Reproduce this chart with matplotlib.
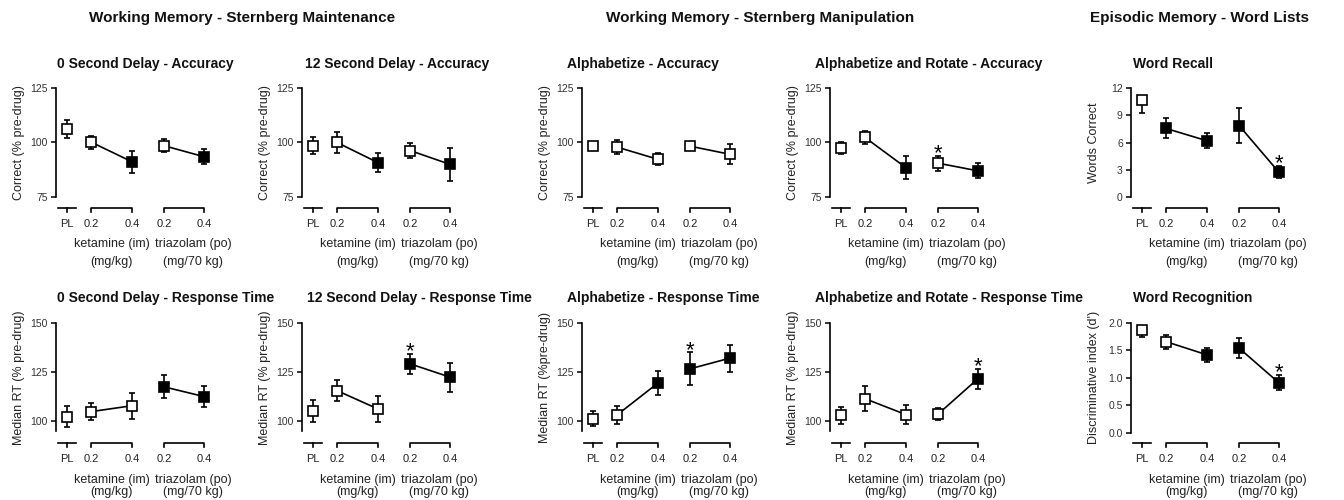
import matplotlib
matplotlib.use("Agg")
import matplotlib.pyplot as plt

plt.rcParams['font.family'] = ['Liberation Sans', 'DejaVu Sans']

# ---------------- data ----------------
dose_labels = ["PL", "0.2", "0.4", "0.2", "0.4"]
drug_names = ["ketamine (im)", "triazolam (po)"]
drug_units = ["(mg/kg)", "(mg/70 kg)"]
group_titles = ["Working Memory - Sternberg Maintenance",
                "Working Memory - Sternberg Manipulation",
                "Episodic Memory - Word Lists"]

titles_top = ["0 Second Delay - Accuracy", "12 Second Delay - Accuracy",
              "Alphabetize - Accuracy", "Alphabetize and Rotate - Accuracy",
              "Word Recall"]
titles_bot = ["0 Second Delay - Response Time", "12 Second Delay - Response Time",
              "Alphabetize - Response Time", "Alphabetize and Rotate - Response Time",
              "Word Recognition"]
ylabels_top = ["Correct (% pre-drug)"] * 4 + ["Words Correct"]
ylabels_bot = ["Median RT (% pre-drug)", "Median RT (% pre-drug)",
               "Median RT (%pre-drug)", "Median RT (% pre-drug)",
               "Discriminative index (d')"]

# top row
acc0_mean = [106.3, 100.2, 91.2, 98.5, 93.5]
acc0_err = [4.2, 3.0, 5.0, 2.9, 3.4]
acc0_filled = [0, 0, 1, 0, 1]
acc0_star = [0, 0, 0, 0, 0]

acc12_mean = [98.6, 100.0, 90.8, 96.3, 90.0]
acc12_err = [3.8, 4.6, 4.4, 3.6, 7.7]
acc12_filled = [0, 0, 1, 0, 1]
acc12_star = [0, 0, 0, 0, 0]

alph_acc_mean = [98.6, 97.9, 92.3, 98.3, 94.6]
alph_acc_err = [1.2, 3.1, 2.8, 1.7, 4.6]
alph_acc_filled = [0, 0, 0, 0, 0]
alph_acc_star = [0, 0, 0, 0, 0]

rot_acc_mean = [97.4, 102.3, 88.5, 90.5, 87.0]
rot_acc_err = [2.8, 3.0, 5.1, 3.4, 3.4]
rot_acc_filled = [0, 0, 1, 0, 1]
rot_acc_star = [0, 0, 0, 1, 0]

recall_mean = [10.65, 7.55, 6.2, 7.85, 2.75]
recall_err_lo = [1.35, 1.1, 0.85, 1.9, 0.7]
recall_err_hi = [0.0, 1.1, 0.85, 1.9, 0.7]
recall_filled = [0, 1, 1, 1, 1]
recall_star = [0, 0, 0, 0, 1]

# bottom row
rt0_mean = [102.4, 104.9, 107.9, 117.5, 112.6]
rt0_err = [5.4, 4.2, 6.5, 5.8, 5.5]
rt0_filled = [0, 0, 0, 1, 1]
rt0_star = [0, 0, 0, 0, 0]

rt12_mean = [105.1, 115.6, 106.3, 129.2, 122.5]
rt12_err = [5.7, 5.2, 6.5, 5.0, 7.4]
rt12_filled = [0, 0, 0, 1, 1]
rt12_star = [0, 0, 0, 1, 0]

alph_rt_mean = [101.4, 103.2, 119.4, 126.7, 132.1]
alph_rt_err = [4.0, 4.8, 6.0, 8.4, 6.8]
alph_rt_filled = [0, 0, 1, 1, 1]
alph_rt_star = [0, 0, 0, 1, 0]

rot_rt_mean = [103.0, 111.5, 103.4, 103.7, 121.6]
rot_rt_err = [4.5, 6.3, 4.7, 2.9, 5.1]
rot_rt_filled = [0, 0, 0, 0, 1]
rot_rt_star = [0, 0, 0, 0, 1]

recog_mean = [1.87, 1.66, 1.42, 1.54, 0.91]
recog_err_lo = [0.13, 0.13, 0.13, 0.18, 0.14]
recog_err_hi = [0.0, 0.13, 0.13, 0.18, 0.14]
recog_filled = [0, 0, 1, 1, 1]
recog_star = [0, 0, 0, 0, 1]

# ---------------- layout ----------------
W, H = 1344, 500
xpos = [0, 1, 2.7, 4.05, 5.7]
UNIT = 24.0
XMIN, XMAX = -0.45, 6.2
pl_px = [67, 313, 593, 841, 1142]
title_x_top = [57, 305, 567, 815, 1133]
title_x_bot = [57, 307, 567, 815, 1133]

fig = plt.figure(figsize=(W / 100, H / 100), dpi=100)

def add_ax(left, top, width, height):
    return fig.add_axes([left / W, 1 - (top + height) / H, width / W, height / H])

panels_top = [
    (acc0_mean, acc0_err, acc0_err, acc0_filled, acc0_star),
    (acc12_mean, acc12_err, acc12_err, acc12_filled, acc12_star),
    (alph_acc_mean, alph_acc_err, alph_acc_err, alph_acc_filled, alph_acc_star),
    (rot_acc_mean, rot_acc_err, rot_acc_err, rot_acc_filled, rot_acc_star),
    (recall_mean, recall_err_lo, recall_err_hi, recall_filled, recall_star),
]
panels_bot = [
    (rt0_mean, rt0_err, rt0_err, rt0_filled, rt0_star),
    (rt12_mean, rt12_err, rt12_err, rt12_filled, rt12_star),
    (alph_rt_mean, alph_rt_err, alph_rt_err, alph_rt_filled, alph_rt_star),
    (rot_rt_mean, rot_rt_err, rot_rt_err, rot_rt_filled, rot_rt_star),
    (recog_mean, recog_err_lo, recog_err_hi, recog_filled, recog_star),
]

LW = 1.2
TXT = '#222222'

def draw_panel(ax, data, ylim, bounds, yticks, yticklabels, height_px, lab_off):
    mean, elo, ehi, filled, star = data
    ax.errorbar(xpos, mean, yerr=[elo, ehi], fmt='none', ecolor='k',
                elinewidth=LW, capsize=2.4, capthick=LW, zorder=2)
    ax.plot(xpos[1:3], mean[1:3], color='k', lw=LW, zorder=2.5)
    ax.plot(xpos[3:5], mean[3:5], color='k', lw=LW, zorder=2.5)
    for x, m, f in zip(xpos, mean, filled):
        ax.plot([x], [m], marker='s', ms=6.8, mew=1.2, mec='k',
                mfc='k' if f else 'white', ls='none', zorder=4)
    for x, m, h, s in zip(xpos, mean, ehi, star):
        if s:
            ax.annotate('*', xy=(x, m + h), xytext=(0, -2.5),
                        textcoords='offset points', ha='center', va='baseline',
                        fontsize=16, color='k')
    ax.set_xlim(XMIN, XMAX)
    ax.set_ylim(*ylim)
    for sp in ['top', 'right', 'bottom']:
        ax.spines[sp].set_visible(False)
    ax.spines['left'].set_bounds(*bounds)
    ax.spines['left'].set_linewidth(1.2)
    ax.set_yticks(yticks)
    ax.set_yticklabels(yticklabels)
    ax.tick_params(axis='y', direction='out', length=3.5, width=1.1,
                   labelsize=7.5, colors='k', labelcolor='#333333', pad=2.5)
    ax.set_xticks(xpos)
    ax.set_xticklabels(dose_labels)
    ax.tick_params(axis='x', length=0, labelsize=8, labelcolor='#222222', pad=8)
    tr = ax.get_xaxis_transform()
    d = 4.0 / height_px
    half = 0.37
    ax.plot([xpos[0] - half, xpos[0] + half], [0, 0], color='k', lw=LW,
            transform=tr, clip_on=False)
    ax.plot([xpos[0], xpos[0]], [0, -d], color='k', lw=LW, transform=tr, clip_on=False)
    for a, b in [(1, 2), (3, 4)]:
        ax.plot([xpos[a], xpos[a], xpos[b], xpos[b]], [-d, 0, 0, -d],
                color='k', lw=LW, transform=tr, clip_on=False)
    centers = [(xpos[1] + xpos[2]) / 2, (xpos[3] + xpos[4]) / 2 + 0.38]
    for c, nm, un in zip(centers, drug_names, drug_units):
        ax.text(c, -lab_off[0] / height_px, nm, transform=tr, ha='center',
                va='center', fontsize=9, color=TXT)
        ax.text(c, -lab_off[1] / height_px, un, transform=tr, ha='center',
                va='center', fontsize=9, color=TXT)

TOP_T, TOP_H = 88, 120
BOT_T, BOT_H = 323, 119.5
for i in range(5):
    left = pl_px[i] + XMIN * UNIT
    ax = add_ax(left, TOP_T, (XMAX - XMIN) * UNIT, TOP_H)
    if i < 4:
        draw_panel(ax, panels_top[i], (69.95, 125), (75, 125), [75, 100, 125],
                   ['75', '100', '125'], TOP_H, (36, 54))
    else:
        draw_panel(ax, panels_top[i], (-1.2, 12), (0, 12), [0, 3, 6, 9, 12],
                   ['0', '3', '6', '9', '12'], TOP_H, (36, 54))
    fig.text((left - 37) / W, 1 - 142.5 / H, ylabels_top[i], rotation=90,
             ha='center', va='center', fontsize=9, color=TXT)
    fig.text(title_x_top[i] / W, 1 - 64 / H, titles_top[i], ha='left',
             va='center', fontsize=10, fontweight='bold', color='#111111')

    ax = add_ax(left, BOT_T, (XMAX - XMIN) * UNIT, BOT_H)
    if i < 4:
        draw_panel(ax, panels_bot[i], (89.2, 150), (94.8, 150), [100, 125, 150],
                   ['100', '125', '150'], BOT_H, (37, 50))
    else:
        draw_panel(ax, panels_bot[i], (-0.18, 2.0), (0, 2.0),
                   [0.0, 0.5, 1.0, 1.5, 2.0], ['0.0', '0.5', '1.0', '1.5', '2.0'],
                   BOT_H, (37, 50))
    fig.text((left - 37) / W, 1 - 377.5 / H, ylabels_bot[i], rotation=90,
             ha='center', va='center', fontsize=9, color=TXT)
    fig.text(title_x_bot[i] / W, 1 - 298 / H, titles_bot[i], ha='left',
             va='center', fontsize=10, fontweight='bold', color='#111111')

for x, t in zip([242, 760, 1200], group_titles):
    fig.text(x / W, 1 - 18 / H, t, ha='center', va='center', fontsize=11,
             fontweight='bold', color='#111111')

fig.savefig('out.png', dpi=100)
